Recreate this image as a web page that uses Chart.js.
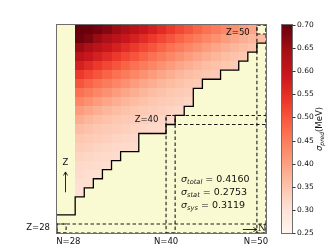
<!DOCTYPE html>
<html>
<head>
<meta charset="utf-8">
<script src="https://cdn.jsdelivr.net/npm/chart.js@4.4.0/dist/chart.umd.min.js"></script>
<style>
html, body { margin: 0; padding: 0; background: #fff; }
canvas { display: block; }
</style>
</head>
<body>
<canvas id="nucChart" width="332" height="249"></canvas>
<script>
// sigma_pred (MeV) par ligne Z, valeurs a partir de N=30
const firstN = 30;
const z50 = [0.700,0.698,0.688,0.672,0.652,0.632,0.612,0.594,0.575,0.555,0.535,0.517,0.500,0.482,0.465,0.450,0.435,0.420,0.405,0.392];
const z49 = [0.695,0.680,0.655,0.632,0.612,0.594,0.575,0.555,0.535,0.517,0.500,0.482,0.465,0.450,0.435,0.420,0.405,0.392,0.380,0.370,0.360];
const z48 = [0.655,0.632,0.612,0.594,0.575,0.555,0.535,0.517,0.500,0.482,0.465,0.450,0.435,0.420,0.405,0.392,0.380,0.370,0.360,0.352];
const z47 = [0.612,0.594,0.575,0.555,0.535,0.517,0.500,0.482,0.465,0.450,0.435,0.420,0.405,0.392,0.380,0.370,0.360,0.352,0.345];
const z46 = [0.575,0.555,0.535,0.517,0.500,0.482,0.465,0.450,0.435,0.420,0.405,0.392,0.380,0.370,0.360,0.352,0.345,0.340];
const z45 = [0.535,0.517,0.500,0.482,0.465,0.450,0.435,0.420,0.405,0.392,0.380,0.370,0.360,0.352,0.345,0.340];
const z44 = [0.500,0.482,0.465,0.450,0.435,0.420,0.405,0.392,0.380,0.370,0.360,0.352,0.345,0.340];
const z43 = [0.465,0.450,0.435,0.420,0.405,0.392,0.380,0.370,0.360,0.352,0.345,0.340,0.335];
const z42 = [0.435,0.420,0.405,0.392,0.380,0.370,0.360,0.352,0.345,0.340,0.335,0.330,0.325];
const z41 = [0.405,0.392,0.380,0.370,0.360,0.352,0.345,0.340,0.335,0.330,0.325,0.321];
const z40 = [0.380,0.370,0.360,0.352,0.345,0.340,0.335,0.330,0.325,0.321,0.318];
const z39 = [0.360,0.352,0.345,0.340,0.335,0.330,0.325,0.321,0.318,0.315];
const z38 = [0.345,0.340,0.335,0.330,0.325,0.321,0.318];
const z37 = [0.335,0.330,0.325,0.321,0.318,0.315,0.312];
const z36 = [0.325,0.321,0.318,0.315,0.312];
const z35 = [0.318,0.315,0.312,0.310];
const z34 = [0.312,0.310,0.307];
const z33 = [0.307,0.305];
const z32 = [0.303];
const heatRows = [z50,z49,z48,z47,z46,z45,z44,z43,z42,z41,z40,z39,z38,z37,z36,z35,z34,z33,z32];

// limite (escalier) : plus petit Z colore pour chaque N
const boundN = [28,29,30,31,32,33,34,35,36,37,38,39,40,41,42,43,44,45,46,47,48,49,50];
const boundZmin = [30,30,32,33,34,35,36,37,37,39,39,39,40,41,42,44,45,45,46,46,47,48,49];

// nombres magiques
const magic = [28, 40, 50];

// barre de couleur
const cbMin = 0.25, cbMax = 0.70;
const cbTicks = [0.25,0.30,0.35,0.40,0.45,0.50,0.55,0.60,0.65,0.70];

// incertitudes
const sigmaNames = ['total', 'stat', 'sys'];
const sigmaValues = ['0.4160', '0.2753', '0.3119'];

// palette Reds
const redsStops = [[255,245,240],[254,224,210],[252,187,161],[252,146,114],[251,106,74],[239,59,44],[203,24,29],[165,15,21],[103,0,13]];
function reds(v) {
    var t = Math.max(0, Math.min(1, (v - cbMin) / (cbMax - cbMin))) * (redsStops.length - 1);
    var i = Math.min(Math.floor(t), redsStops.length - 2);
    var f = t - i;
    var a = redsStops[i], b = redsStops[i + 1];
    return 'rgb(' + Math.round(a[0] + (b[0] - a[0]) * f) + ',' + Math.round(a[1] + (b[1] - a[1]) * f) + ',' + Math.round(a[2] + (b[2] - a[2]) * f) + ')';
}

// escalier
var stairData = boundN.map((n, i) => ({x: n - 0.5, y: boundZmin[i] - 0.5}));
stairData.push({x: 50.5, y: boundZmin[boundZmin.length - 1] - 0.5});

// boites en pointilles
function box(x0, x1, y0, y1) {
    return [{x:x0,y:y0},{x:x1,y:y0},{x:x1,y:y1},{x:x0,y:y1},{x:x0,y:y0}];
}
var boxes = [];
magic.forEach(m => {
    boxes.push(box(m - 0.5, 50.5, m - 0.5, m + 0.5));   // ligne Z=m
    boxes.push(box(m - 0.5, m + 0.5, 27.5, m + 0.5));   // colonne N=m
});

var datasets = [{
    data: stairData,
    showLine: true,
    stepped: true,
    borderColor: '#000',
    borderWidth: 1.3,
    pointRadius: 0
}];
boxes.forEach(b => datasets.push({
    data: b,
    showLine: true,
    borderColor: '#1a1a1a',
    borderWidth: 1.1,
    borderDash: [3.5, 2.5],
    pointRadius: 0
}));

const FONT = "'DejaVu Sans', sans-serif";

function sigmaText(ctx, x, y, sub, rest, size) {
    ctx.textAlign = 'left';
    ctx.textBaseline = 'alphabetic';
    ctx.font = 'italic ' + size + 'px ' + FONT;
    ctx.fillText('\u03c3', x, y);
    x += ctx.measureText('\u03c3').width;
    ctx.font = 'italic ' + (size * 0.7) + 'px ' + FONT;
    ctx.fillText(sub, x, y + size * 0.22);
    x += ctx.measureText(sub).width;
    ctx.font = size + 'px ' + FONT;
    ctx.fillText(rest, x, y);
}

const heatPlugin = {
    id: 'heat',
    beforeDatasetsDraw(chart) {
        var ctx = chart.ctx, a = chart.chartArea;
        var xs = chart.scales.x, ys = chart.scales.y;
        ctx.save();
        ctx.fillStyle = '#fafad2';
        ctx.fillRect(a.left, a.top, a.right - a.left, a.bottom - a.top);
        heatRows.forEach((row, i) => {
            var z = 50 - i;
            row.forEach((v, j) => {
                var n = firstN + j;
                var x0 = Math.round(xs.getPixelForValue(n - 0.5));
                var x1 = Math.round(xs.getPixelForValue(n + 0.5));
                var y0 = Math.round(ys.getPixelForValue(z + 0.5));
                var y1 = Math.round(ys.getPixelForValue(z - 0.5));
                ctx.fillStyle = reds(v);
                ctx.fillRect(x0, y0, x1 - x0, y1 - y0);
            });
        });
        ctx.restore();
    },
    afterDraw(chart) {
        var ctx = chart.ctx, a = chart.chartArea;
        var xs = chart.scales.x, ys = chart.scales.y;
        ctx.save();
        // cadre
        ctx.strokeStyle = '#6e6e6e';
        ctx.lineWidth = 1;
        ctx.strokeRect(a.left - 0.5, a.top - 0.5, a.right - a.left + 1, a.bottom - a.top + 1);

        ctx.fillStyle = '#111';
        ctx.font = '8.5px ' + FONT;
        ctx.textBaseline = 'middle';
        ctx.textAlign = 'center';
        ctx.fillText('Z=50', xs.getPixelForValue(47.4), ys.getPixelForValue(49.6));
        ctx.fillText('Z=40', xs.getPixelForValue(37.35), ys.getPixelForValue(40.0));
        ctx.textAlign = 'right';
        ctx.fillText('Z=28', a.left - 7, ys.getPixelForValue(28.05));
        ctx.textAlign = 'center';
        ctx.fillText('N=28', xs.getPixelForValue(28.75), a.bottom + 9);
        ctx.fillText('N=40', xs.getPixelForValue(39.5), a.bottom + 9);
        ctx.fillText('N=50', xs.getPixelForValue(49.4), a.bottom + 9);

        // fleches
        ctx.strokeStyle = '#111';
        ctx.lineWidth = 0.9;
        var ax = Math.round(xs.getPixelForValue(28.38)) + 0.5;
        var ay0 = ys.getPixelForValue(32.0), ay1 = ys.getPixelForValue(34.25);
        ctx.beginPath();
        ctx.moveTo(ax, ay0); ctx.lineTo(ax, ay1);
        ctx.moveTo(ax - 2, ay1 + 3.5); ctx.lineTo(ax, ay1); ctx.lineTo(ax + 2, ay1 + 3.5);
        ctx.stroke();
        ctx.fillText('Z', ax, ys.getPixelForValue(35.25));

        var by = Math.round(ys.getPixelForValue(27.9)) + 0.5;
        var bx0 = xs.getPixelForValue(47.95), bx1 = xs.getPixelForValue(49.5);
        ctx.beginPath();
        ctx.moveTo(bx0, by); ctx.lineTo(bx1, by);
        ctx.moveTo(bx1 - 3.5, by - 2); ctx.lineTo(bx1, by); ctx.lineTo(bx1 + -3.5, by + 2);
        ctx.stroke();
        ctx.font = "9px 'DejaVu Serif', serif";
        ctx.textAlign = 'left';
        ctx.fillText('N', bx1 + 1, by - 0.5);

        // incertitudes
        sigmaNames.forEach((s, i) => {
            sigmaText(ctx, xs.getPixelForValue(41.15), ys.getPixelForValue(33.1 - i * 1.44), s, ' = ' + sigmaValues[i], 9.5);
        });

        // barre de couleur
        var cx0 = 282, cx1 = 292;
        var span = a.bottom - a.top;
        for (var p = 0; p < span; p++) {
            var v = cbMax - (p + 0.5) / span * (cbMax - cbMin);
            ctx.fillStyle = reds(v);
            ctx.fillRect(cx0, a.top + p, cx1 - cx0, 1);
        }
        ctx.strokeStyle = '#6e6e6e';
        ctx.lineWidth = 1;
        ctx.strokeRect(cx0 - 0.5, a.top - 0.5, cx1 - cx0 + 1, span + 1);
        ctx.strokeStyle = '#333';
        ctx.fillStyle = '#111';
        ctx.font = '7.5px ' + FONT;
        ctx.textAlign = 'left';
        ctx.textBaseline = 'middle';
        cbTicks.forEach(t => {
            var y = a.bottom - (t - cbMin) / (cbMax - cbMin) * span;
            ctx.beginPath();
            ctx.moveTo(cx1 + 0.5, Math.round(y) + 0.5);
            ctx.lineTo(cx1 + 3.5, Math.round(y) + 0.5);
            ctx.stroke();
            ctx.fillText(t.toFixed(2), cx1 + 5, y);
        });

        // titre de la barre
        ctx.translate(319, (a.top + a.bottom) / 2);
        ctx.rotate(-Math.PI / 2);
        var size = 8.5, w = 0;
        ctx.font = 'italic ' + size + 'px ' + FONT; w += ctx.measureText('\u03c3').width;
        ctx.font = 'italic ' + (size * 0.7) + 'px ' + FONT; w += ctx.measureText('pred').width;
        ctx.font = size + 'px ' + FONT; w += ctx.measureText('(MeV)').width;
        ctx.textBaseline = 'middle';
        sigmaText(ctx, -w / 2, 3, 'pred', '(MeV)', size);
        ctx.restore();
    }
};

var ctx = document.getElementById('nucChart').getContext('2d');
var chartInstance = new Chart(ctx, {
    type: 'scatter',
    data: { datasets: datasets },
    options: {
        responsive: false,
        animation: false,
        devicePixelRatio: 1,
        layout: { padding: { left: 57, right: 66, top: 25, bottom: 16 } },
        plugins: { legend: { display: false }, tooltip: { enabled: false } },
        scales: {
            x: { type: 'linear', min: 27.5, max: 50.5, display: false },
            y: { type: 'linear', min: 27.5, max: 50.5, display: false }
        }
    },
    plugins: [heatPlugin]
});
</script>
</body>
</html>
